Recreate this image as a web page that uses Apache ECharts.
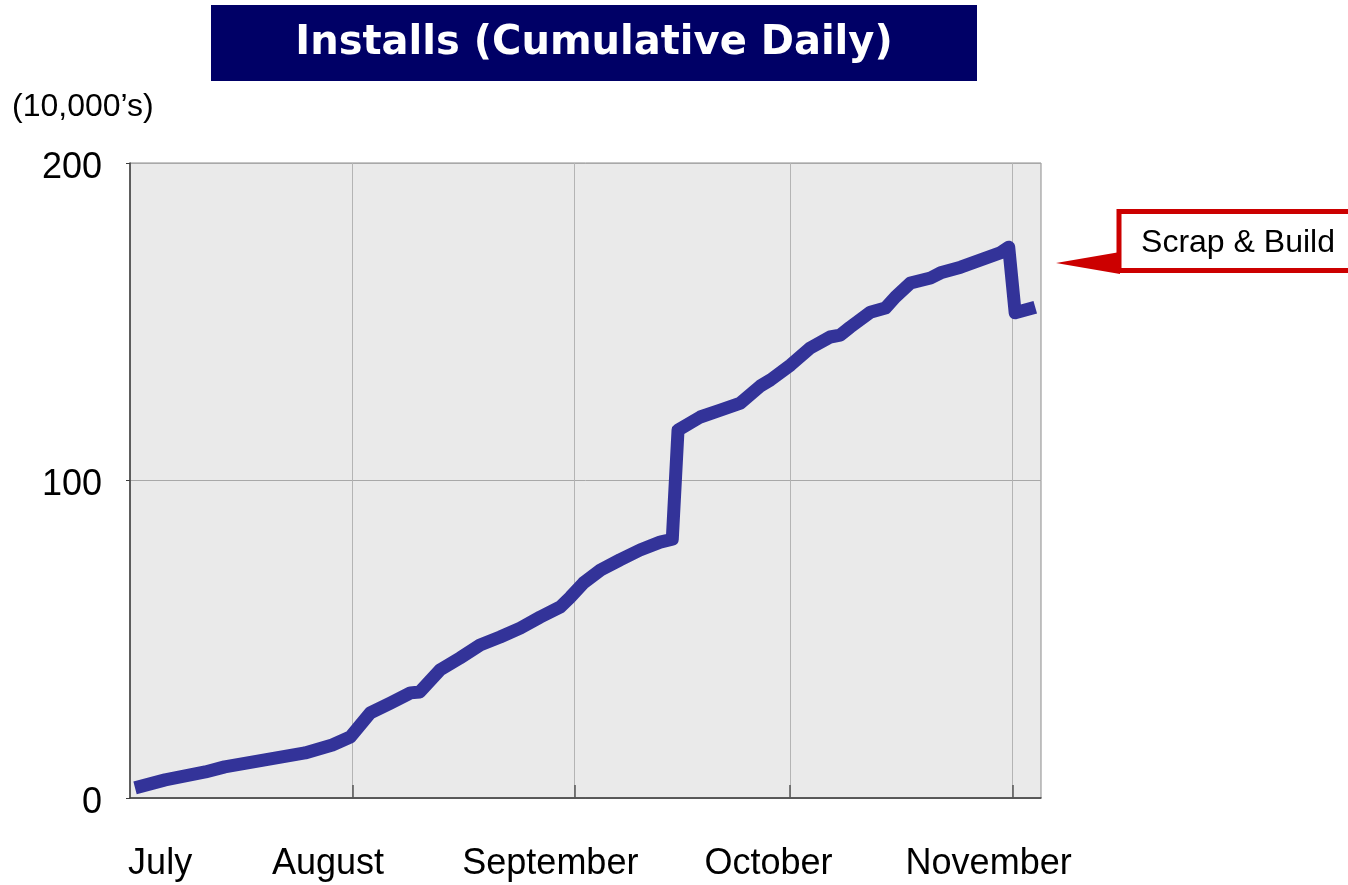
<!DOCTYPE html>
<html>
<head>
<meta charset="utf-8">
<title>Installs (Cumulative Daily)</title>
<script src="https://cdn.jsdelivr.net/npm/echarts@6/dist/echarts.min.js"></script>
<style>
  html, body { margin: 0; padding: 0; background: #fff; }
  #chart { width: 1348px; height: 885px; }
</style>
</head>
<body>
<div id="chart"></div>
<script>
// days counted from July 1 (day 0), values in 10,000's
var days = [0.7, 4.9, 10.5, 13.2, 18.8, 24.4, 28.2, 30.7, 33.5, 36.3, 39.1, 40.4,
  43.2, 46.0, 48.8, 51.6, 54.4, 57.2, 60.0, 61.4, 63.2, 65.6, 68.3, 71.1, 73.9,
  75.6, 76.4, 79.5, 82.3, 85.1, 87.9, 89.3, 92.1, 94.8, 97.6, 99.0, 100.4, 103.2,
  105.3, 106.7, 108.8, 111.6, 113.0, 115.8, 118.5, 121.3, 122.5, 123.4, 126.2];
var installs = [3.2, 5.7, 8.2, 9.8, 12.0, 14.2, 16.7, 19.2, 26.8, 29.9, 33.1, 33.4,
  40.3, 44.1, 48.2, 50.7, 53.5, 57.0, 60.2, 63.3, 67.7, 71.8, 75.0, 78.1, 80.6,
  81.5, 115.9, 120.0, 122.2, 124.4, 129.8, 131.7, 136.4, 141.7, 145.2, 145.8, 148.3, 153.0,
  154.3, 157.8, 162.2, 163.8, 165.4, 167.2, 169.4, 171.7, 173.5, 152.8, 154.6];

// month starts (grid lines) and where the month names sit
var monthStarts = [31, 62, 92, 123];
var monthNames = ['July', 'August', 'September', 'October', 'November'];
var monthLabelPos = [4.2, 27.6, 58.6, 89.0, 119.7];

var chart = echarts.init(document.getElementById('chart'));

var seriesData = [];
for (var i = 0; i < days.length; i++) {
  seriesData.push([days[i], installs[i]]);
}

function monthName(v) {
  for (var i = 0; i < monthLabelPos.length; i++) {
    if (Math.abs(monthLabelPos[i] - v) < 0.01) return monthNames[i];
  }
  return '';
}

var option = {
  animation: false,
  grid: {
    left: 130, right: 307, top: 163, bottom: 87,
    show: true,
    backgroundColor: '#eaeaea',
    borderColor: '#8c8c8c',
    borderWidth: 1
  },
  xAxis: {
    type: 'value',
    min: 0,
    max: 127,
    axisLine: { show: true, lineStyle: { color: '#3c3c3c', width: 1.5 } },
    axisTick: {
      show: true, inside: true, length: 13,
      customValues: monthStarts,
      lineStyle: { color: '#555', width: 1.5 }
    },
    splitLine: { show: true, lineStyle: { color: '#b4b4b4', width: 1 } },
    axisLabel: {
      customValues: monthLabelPos,
      formatter: monthName,
      margin: 48,
      fontFamily: 'Liberation Sans',
      fontSize: 36,
      color: '#000'
    }
  },
  yAxis: {
    type: 'value',
    min: 0,
    max: 200,
    interval: 100,
    axisLine: { show: true, lineStyle: { color: '#3c3c3c', width: 1.5 } },
    axisTick: { show: true, length: 4, lineStyle: { color: '#3c3c3c' } },
    splitLine: { show: true, lineStyle: { color: '#a8a8a8', width: 1 } },
    axisLabel: {
      margin: 28,
      verticalAlign: 'top',
      lineHeight: 10,
      fontFamily: 'Liberation Sans',
      fontSize: 36,
      color: '#000'
    }
  },
  series: [{
    type: 'line',
    data: seriesData,
    symbol: 'none',
    lineStyle: { color: '#333399', width: 13, cap: 'butt', join: 'round' }
  }],
  graphic: [
    // title banner
    {
      type: 'rect',
      shape: { x: 211, y: 5, width: 766, height: 76 },
      style: { fill: '#000066' },
      silent: true
    },
    {
      type: 'text',
      x: 594, y: 44,
      style: {
        text: 'Installs (Cumulative Daily)',
        fill: '#fff',
        font: 'bold 40px "DejaVu Sans"',
        textAlign: 'center',
        textVerticalAlign: 'middle'
      }
    },
    // unit note
    {
      type: 'text',
      x: 12, y: 107,
      style: {
        text: '(10,000\u2019s)',
        fill: '#000',
        font: '32px "Liberation Sans"',
        textAlign: 'left',
        textVerticalAlign: 'middle'
      }
    },
    // callout
    {
      type: 'polygon',
      shape: { points: [[1056, 263], [1120, 252], [1120, 274]] },
      style: { fill: '#cc0000' }
    },
    {
      type: 'rect',
      shape: { x: 1119, y: 211.5, width: 240, height: 59 },
      style: { fill: '#fff', stroke: '#cc0000', lineWidth: 5 }
    },
    {
      type: 'text',
      x: 1238, y: 243,
      style: {
        text: 'Scrap & Build',
        fill: '#000',
        font: '32px "Liberation Sans"',
        textAlign: 'center',
        textVerticalAlign: 'middle'
      }
    }
  ]
};

chart.setOption(option);
window.addEventListener('resize', function () { chart.resize(); });
</script>
</body>
</html>
